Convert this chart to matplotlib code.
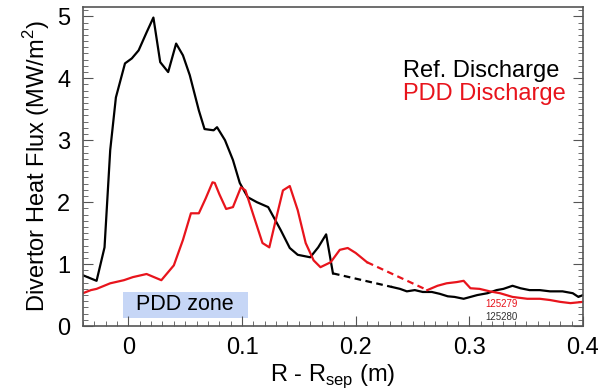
import matplotlib.pyplot as plt
from matplotlib.ticker import MultipleLocator
from matplotlib.patches import Rectangle

plt.rcParams['font.family'] = ['Liberation Sans', 'DejaVu Sans']

# Ref. discharge (black), inner part and outer part
ref_x1 = [-0.040, -0.028, -0.021, -0.016, -0.011, -0.003, 0.003, 0.009, 0.016, 0.022,
          0.028, 0.035, 0.042, 0.048, 0.054, 0.062, 0.067, 0.075, 0.078, 0.085,
          0.092, 0.098, 0.105, 0.113, 0.123, 0.134, 0.142, 0.149, 0.160, 0.167,
          0.174, 0.180]
ref_y1 = [0.82, 0.73, 1.27, 2.84, 3.69, 4.24, 4.32, 4.45, 4.74, 4.98,
          4.26, 4.10, 4.56, 4.37, 4.05, 3.48, 3.18, 3.16, 3.21, 3.00,
          2.68, 2.31, 2.08, 2.00, 1.92, 1.55, 1.26, 1.15, 1.11, 1.27,
          1.48, 0.85]
ref_x2 = [0.232, 0.239, 0.245, 0.252, 0.259, 0.267, 0.274, 0.281, 0.287, 0.295,
          0.301, 0.307, 0.316, 0.324, 0.330, 0.338, 0.345, 0.353, 0.362, 0.371,
          0.382, 0.391, 0.396, 0.400]
ref_y2 = [0.63, 0.60, 0.56, 0.58, 0.55, 0.55, 0.52, 0.48, 0.47, 0.44,
          0.47, 0.50, 0.53, 0.58, 0.60, 0.65, 0.61, 0.58, 0.58, 0.56,
          0.56, 0.53, 0.47, 0.50]

# PDD discharge (red)
pdd_x1 = [-0.040, -0.033, -0.028, -0.016, -0.004, 0.004, 0.016, 0.029, 0.040, 0.048,
          0.055, 0.062, 0.068, 0.074, 0.076, 0.080, 0.086, 0.092, 0.099, 0.103,
          0.110, 0.118, 0.124, 0.129, 0.136, 0.142, 0.149, 0.156, 0.163, 0.169,
          0.178, 0.186, 0.193, 0.200, 0.210]
pdd_y1 = [0.53, 0.58, 0.60, 0.69, 0.74, 0.79, 0.84, 0.74, 0.98, 1.39,
          1.82, 1.82, 2.06, 2.32, 2.31, 2.13, 1.89, 1.92, 2.24, 2.19,
          1.79, 1.34, 1.27, 1.66, 2.19, 2.26, 1.87, 1.34, 1.06, 0.95,
          1.03, 1.23, 1.26, 1.18, 1.03]
pdd_x2 = [0.263, 0.272, 0.280, 0.289, 0.295, 0.301, 0.309, 0.318, 0.327, 0.338,
          0.351, 0.362, 0.371, 0.380, 0.389, 0.400]
pdd_y2 = [0.58, 0.65, 0.69, 0.71, 0.73, 0.61, 0.60, 0.56, 0.53, 0.47,
          0.44, 0.44, 0.42, 0.39, 0.37, 0.39]

fig = plt.figure(figsize=(6.01, 3.90), dpi=100)
ax = fig.add_axes([0.138, 0.164, 0.832, 0.818])

lw = 1.6
red = '#e8141c'
ax.plot(ref_x1, ref_y1, color='black', lw=lw)
ax.plot(ref_x2, ref_y2, color='black', lw=lw)
ax.plot([ref_x1[-1], ref_x2[0]], [ref_y1[-1], ref_y2[0]], color='black', lw=lw, ls=(0, (3, 2)))
ax.plot(pdd_x1, pdd_y1, color=red, lw=lw)
ax.plot(pdd_x2, pdd_y2, color=red, lw=lw)
ax.plot([pdd_x1[-1], pdd_x2[0]], [pdd_y1[-1], pdd_y2[0]], color=red, lw=lw, ls=(0, (3, 2)))

# PDD zone box
ax.add_patch(Rectangle((-0.005, 0.13), 0.11, 0.42, color='#c6d6f6', zorder=0, lw=0))
ax.text(0.05, 0.34, 'PDD zone', ha='center', va='center', fontsize=15.5)

ax.text(0.242, 4.12, 'Ref. Discharge', color='black', fontsize=17, ha='left', va='center')
ax.text(0.242, 3.75, 'PDD Discharge', color=red, fontsize=17, ha='left', va='center')
ax.text(0.314, 0.35, '125279', color=red, fontsize=7, ha='left', va='center')
ax.text(0.314, 0.145, '125280', color='#333333', fontsize=7, ha='left', va='center')

ax.set_xlim(-0.04, 0.40)
ax.set_ylim(0, 5.15)
ax.xaxis.set_major_locator(MultipleLocator(0.1))
ax.xaxis.set_minor_locator(MultipleLocator(0.01))
ax.yaxis.set_major_locator(MultipleLocator(1))
ax.yaxis.set_minor_locator(MultipleLocator(0.1))
ax.set_xticks([0, 0.1, 0.2, 0.3, 0.4])
ax.set_xticklabels(['0', '0.1', '0.2', '0.3', '0.4'])
ax.tick_params(which='both', direction='in', right=True, top=False, labelsize=17, color='#555555')
ax.tick_params(which='major', length=7)
ax.tick_params(which='minor', length=3.5)
ax.tick_params(axis='x', pad=8)
ax.tick_params(axis='y', pad=9)
for s in ax.spines.values():
    s.set_color('#555555')
    s.set_linewidth(1.2)

ax.set_xlabel('R - R$_{\\mathregular{sep}}$ (m)', fontsize=17, labelpad=2)
ax.set_ylabel('Divertor Heat Flux (MW/m$^{\\mathregular{2}}$)', fontsize=17, labelpad=4)

fig.savefig('out.png', dpi=100)
